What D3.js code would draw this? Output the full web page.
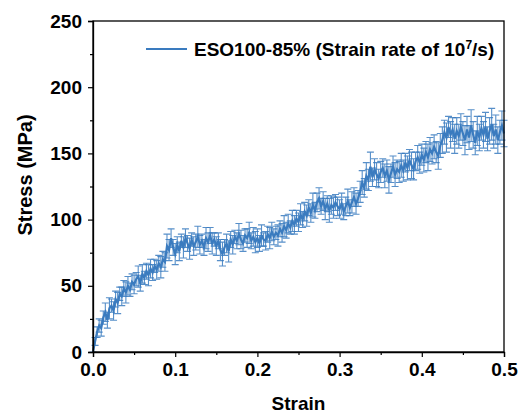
<!DOCTYPE html>
<html>
<head>
<meta charset="utf-8">
<script src="https://cdn.jsdelivr.net/npm/d3@7"></script>
<style>
	body { margin: 0; background: #fff; }
	svg { display: block; font-family: "Liberation Sans", Arial, sans-serif; font-weight: bold; }
</style>
</head>
<body>
<svg id="chart" width="518" height="414"></svg>
<script>
// strain grid (step 0.0025) and the stress / error values
var strainStep = 0.0025;

var stress = [
	0, 8, 15, 20, 18, 26, 30, 24, 33, 35,
	31, 40, 37, 44, 42, 48, 45, 50, 47, 53,
	51, 55, 57, 52, 59, 56, 61, 58, 63, 60,
	65, 62, 67, 64, 70, 68, 80, 77, 86, 79,
	74, 81, 76, 84, 79, 86, 82, 78, 85, 80,
	83, 87, 81, 84, 79, 86, 83, 88, 82, 85,
	80, 84, 77, 74, 79, 82, 76, 85, 81, 87,
	84, 89, 85, 82, 88, 86, 90, 84, 87, 83,
	86, 82, 88, 85, 84, 89, 86, 91, 87, 90,
	88, 93, 90, 95, 92, 97, 94, 99, 96, 101,
	98, 104, 100, 106, 103, 109, 105, 111, 107, 113,
	116, 110, 114, 108, 112, 107, 111, 109, 113, 110,
	108, 112, 106, 110, 114, 109, 113, 117, 112, 116,
	121, 128, 124, 133, 130, 140, 132, 138, 134, 131,
	136, 139, 133, 137, 130, 135, 140, 134, 138, 136,
	141, 137, 143, 139, 145, 141, 138, 144, 147, 143,
	149, 145, 151, 147, 153, 150, 155, 151, 148, 156,
	160, 166, 162, 170, 164, 168, 161, 167, 163, 170,
	165, 160, 168, 162, 171, 164, 158, 167, 162, 169,
	164, 170, 161, 167, 172, 163, 168, 160, 166, 171, 165
];

var stressErr = [
	0, 3, 4, 5, 6, 5, 7, 6, 8, 5,
	7, 6, 8, 5, 7, 6, 8, 7, 5, 6,
	7, 5, 8, 6, 7, 5, 6, 8, 7, 6,
	5, 7, 6, 8, 6, 7, 9, 8, 7, 6,
	8, 6, 7, 5, 8, 7, 6, 8, 5, 7,
	6, 8, 7, 5, 6, 8, 7, 6, 8, 5,
	7, 6, 8, 9, 6, 7, 8, 6, 7, 5,
	6, 8, 7, 6, 5, 7, 8, 6, 7, 8,
	7, 6, 8, 5, 7, 6, 8, 7, 6, 5,
	8, 6, 7, 8, 6, 7, 5, 8, 7, 6,
	7, 8, 6, 7, 8, 6, 7, 9, 6, 7,
	8, 6, 7, 8, 6, 9, 7, 8, 6, 7,
	7, 8, 6, 7, 9, 6, 8, 7, 8, 6,
	8, 9, 7, 10, 8, 11, 7, 8, 9, 7,
	8, 7, 9, 8, 10, 7, 8, 9, 7, 8,
	9, 8, 7, 9, 8, 10, 8, 7, 9, 8,
	8, 9, 8, 10, 9, 8, 9, 8, 10, 9,
	10, 9, 11, 8, 10, 9, 11, 10, 9, 10,
	9, 11, 10, 9, 12, 10, 9, 11, 10, 9,
	10, 11, 9, 10, 12, 9, 11, 10, 9, 11, 10
];

var xTicks = [0, 0.1, 0.2, 0.3, 0.4, 0.5];
var yTicks = [0, 50, 100, 150, 200, 250];
var seriesName = "ESO100-85% (Strain rate of 10";

var blue = "#3a7bbf";
var margin = { left: 93, right: 14, top: 21, bottom: 62 };
var width = 518, height = 414;

var svg = d3.select("#chart");

var x = d3.scaleLinear().domain([0, 0.5]).range([margin.left, width - margin.right]);
var y = d3.scaleLinear().domain([0, 250]).range([height - margin.bottom, margin.top]);

var points = stress.map(function(v, i) {
	return { s: i * strainStep, v: v, e: stressErr[i] };
});

// error bars first, the line goes on top
var bars = svg.append("g")
	.attr("class", "errorbars")
	.attr("stroke", blue)
	.attr("stroke-opacity", 0.85)
	.attr("stroke-width", 1.1);

bars.selectAll("path")
	.data(points)
	.enter()
	.append("path")
	.attr("d", function(d) {
		var cx = x(d.s), y0 = y(d.v - d.e), y1 = y(d.v + d.e);
		return "M" + cx + "," + y0 + "V" + y1 +
			"M" + (cx - 3.5) + "," + y0 + "H" + (cx + 3.5) +
			"M" + (cx - 3.5) + "," + y1 + "H" + (cx + 3.5);
	});

var line = d3.line()
	.x(function(d) { return x(d.s); })
	.y(function(d) { return y(d.v); });

svg.append("path")
	.datum(points)
	.attr("fill", "none")
	.attr("stroke", blue)
	.attr("stroke-width", 2.2)
	.attr("d", line);

// frame
svg.append("rect")
	.attr("x", margin.left)
	.attr("y", margin.top)
	.attr("width", width - margin.right - margin.left)
	.attr("height", height - margin.bottom - margin.top)
	.attr("fill", "none")
	.attr("stroke", "#000")
	.attr("stroke-width", 1.3);

// axes with minor ticks
var xMinor = d3.axisBottom(x).tickValues(d3.range(0.05, 0.5, 0.1)).tickSize(3).tickFormat("");
var yMinor = d3.axisLeft(y).tickValues(d3.range(25, 250, 50)).tickSize(3).tickFormat("");

svg.append("g")
	.attr("transform", "translate(0," + y(0) + ")")
	.call(xMinor)
	.call(function(g) { g.select(".domain").remove(); });

svg.append("g")
	.attr("transform", "translate(" + x(0) + ",0)")
	.call(yMinor)
	.call(function(g) { g.select(".domain").remove(); });

var xAxis = svg.append("g")
	.attr("transform", "translate(0," + y(0) + ")")
	.call(d3.axisBottom(x).tickValues(xTicks).tickSize(5).tickPadding(6).tickFormat(d3.format(".1f")));

var yAxis = svg.append("g")
	.attr("transform", "translate(" + x(0) + ",0)")
	.call(d3.axisLeft(y).tickValues(yTicks).tickSize(5).tickPadding(6));

[xAxis, yAxis].forEach(function(g) {
	g.select(".domain").attr("stroke-width", 1.3);
	g.selectAll("text")
		.attr("fill", "#000")
		.style("font-size", "19px")
		.style("font-family", "Liberation Sans, Arial, sans-serif")
		.style("font-weight", "bold");
});
svg.selectAll(".tick line").attr("stroke-width", 1.2);

// axis titles
svg.append("text")
	.attr("x", (x(0) + x(0.5)) / 2)
	.attr("y", 410)
	.attr("text-anchor", "middle")
	.style("font-size", "19px")
	.text("Strain");

svg.append("text")
	.attr("transform", "translate(32,175) rotate(-90)")
	.attr("text-anchor", "middle")
	.style("font-size", "20px")
	.text("Stress (MPa)");

// legend
var legend = svg.append("g").attr("class", "legend");
legend.append("line")
	.attr("x1", 146).attr("x2", 187)
	.attr("y1", 49).attr("y2", 49)
	.attr("stroke", blue)
	.attr("stroke-width", 2);

var lt = legend.append("text")
	.attr("x", 194)
	.attr("y", 56)
	.style("font-size", "19px");
lt.append("tspan").text(seriesName);
lt.append("tspan").attr("dy", -7).style("font-size", "12px").text("7");
lt.append("tspan").attr("dy", 7).text("/s)");
</script>
</body>
</html>
